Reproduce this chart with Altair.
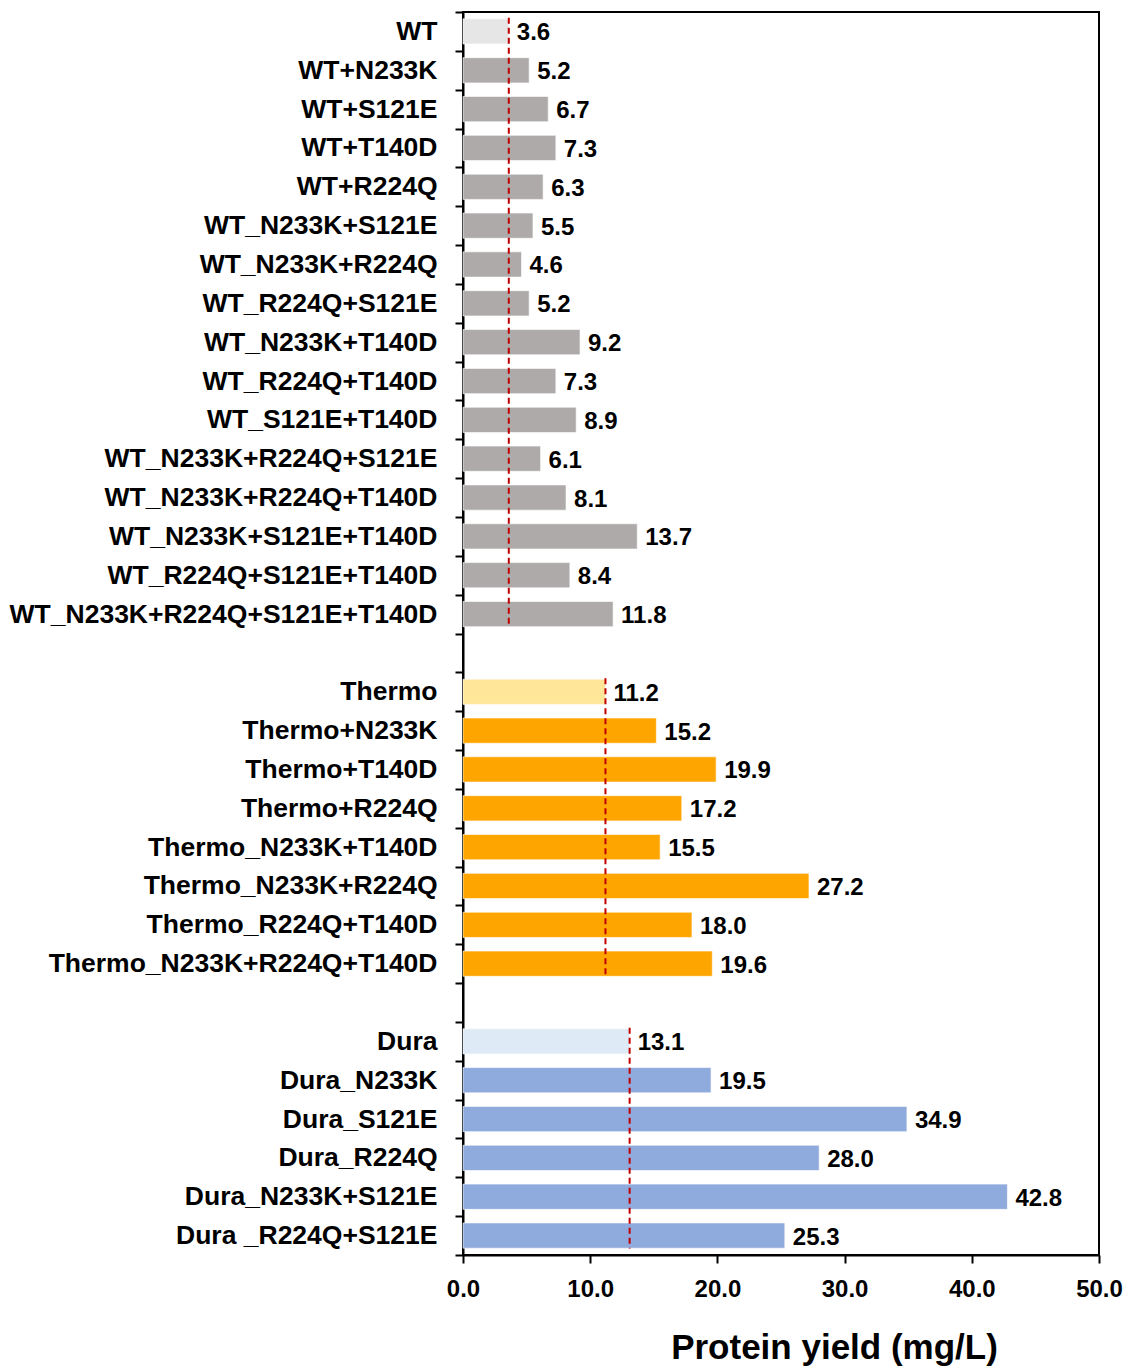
import altair as alt
import pandas as pd

# Protein yield (mg/L) per construct, grouped by parent scaffold
wt_names = ["WT", "WT+N233K", "WT+S121E", "WT+T140D", "WT+R224Q",
            "WT_N233K+S121E", "WT_N233K+R224Q", "WT_R224Q+S121E",
            "WT_N233K+T140D", "WT_R224Q+T140D", "WT_S121E+T140D",
            "WT_N233K+R224Q+S121E", "WT_N233K+R224Q+T140D",
            "WT_N233K+S121E+T140D", "WT_R224Q+S121E+T140D",
            "WT_N233K+R224Q+S121E+T140D"]
wt_values = [3.6, 5.2, 6.7, 7.3, 6.3, 5.5, 4.6, 5.2, 9.2, 7.3, 8.9,
             6.1, 8.1, 13.7, 8.4, 11.8]

thermo_names = ["Thermo", "Thermo+N233K", "Thermo+T140D", "Thermo+R224Q",
                "Thermo_N233K+T140D", "Thermo_N233K+R224Q",
                "Thermo_R224Q+T140D", "Thermo_N233K+R224Q+T140D"]
thermo_values = [11.2, 15.2, 19.9, 17.2, 15.5, 27.2, 18.0, 19.6]

dura_names = ["Dura", "Dura_N233K", "Dura_S121E", "Dura_R224Q",
              "Dura_N233K+S121E", "Dura _R224Q+S121E"]
dura_values = [13.1, 19.5, 34.9, 28.0, 42.8, 25.3]

groups = [("WT", wt_names, wt_values),
          ("Thermo", thermo_names, thermo_values),
          ("Dura", dura_names, dura_values)]

shade_domain = ["WT base", "WT variant", "Thermo base", "Thermo variant",
                "Dura base", "Dura variant"]
shade_range = ["#e7e6e6", "#aeaaaa", "#ffe699", "#ffa500", "#deebf7", "#8faadc"]

# Row order with empty spacer rows between groups
row_order = wt_names + [" "] + thermo_names + ["  "] + dura_names

records = []
baselines = []
for grp, names, vals in groups:
    for i, (n, v) in enumerate(zip(names, vals)):
        records.append({"name": n, "value": v,
                        "shade": f"{grp} {'base' if i == 0 else 'variant'}",
                        "label": f"{v:.1f}"})
    baselines.append({"start": names[0], "end": names[-1], "value": vals[0]})

bars_df = pd.DataFrame(records)
base_df = pd.DataFrame(baselines)

font = "Liberation Sans"

# Rows fill the whole band; bar thickness is set on the mark itself
y_scale = alt.Scale(domain=row_order, paddingInner=0, paddingOuter=0)
x_scale = alt.Scale(domain=[0, 50], nice=False)

x_axis = alt.Axis(values=[0, 10, 20, 30, 40, 50], format=".1f", grid=False,
                  title="Protein yield (mg/L)", titleFontSize=35,
                  titleFont=font, titleFontWeight="bold", titleColor="black",
                  titleX=371, titleY=103, titleAlign="center",
                  titleBaseline="alphabetic", titleAnchor="start",
                  labelFontSize=24, labelFont=font, labelFontWeight="bold",
                  labelColor="black", labelPadding=14, labelFlush=False,
                  tickSize=8, tickWidth=2, tickColor="black",
                  domainColor="black", domainWidth=2)

y_axis = alt.Axis(title=None, labelFontSize=26.5, labelFont=font,
                  labelFontWeight="bold", labelColor="black", labelLimit=1000,
                  labelPadding=18, tickSize=8, tickWidth=2, tickColor="black",
                  tickBand="extent", domainColor="black", domainWidth=2)

bars = alt.Chart(bars_df).mark_bar(
    height={"band": 0.65}, stroke="white", strokeWidth=1, strokeOpacity=0.6
).encode(
    y=alt.Y("name:N", scale=y_scale, axis=y_axis, sort=row_order),
    x=alt.X("value:Q", scale=x_scale, axis=x_axis),
    color=alt.Color("shade:N", scale=alt.Scale(domain=shade_domain,
                                               range=shade_range),
                    legend=None),
)

labels = alt.Chart(bars_df).mark_text(
    align="left", baseline="middle", dx=8, dy=2, fontSize=24, font=font,
    fontWeight="bold", color="black"
).encode(
    y=alt.Y("name:N", scale=y_scale, sort=row_order),
    x=alt.X("value:Q", scale=x_scale),
    text="label:N",
)

rules = alt.Chart(base_df).mark_rule(
    color="#c00000", strokeWidth=2, strokeDash=[6, 4]
).encode(
    x=alt.X("value:Q", scale=x_scale),
    y=alt.Y("start:N", scale=y_scale, sort=row_order, bandPosition=0.15),
    y2=alt.Y2("end:N", bandPosition=0.83),
)

chart = alt.layer(bars, rules, labels).properties(
    width=636, height=1243,
    autosize=alt.AutoSizeParams(type="none"),
    padding={"left": 463, "top": 12, "right": 37, "bottom": 112},
).configure(
    background="white"
).configure_view(
    stroke="black", strokeWidth=2
)

chart.save("out.html", embed_options={"renderer": "svg", "actions": False})
